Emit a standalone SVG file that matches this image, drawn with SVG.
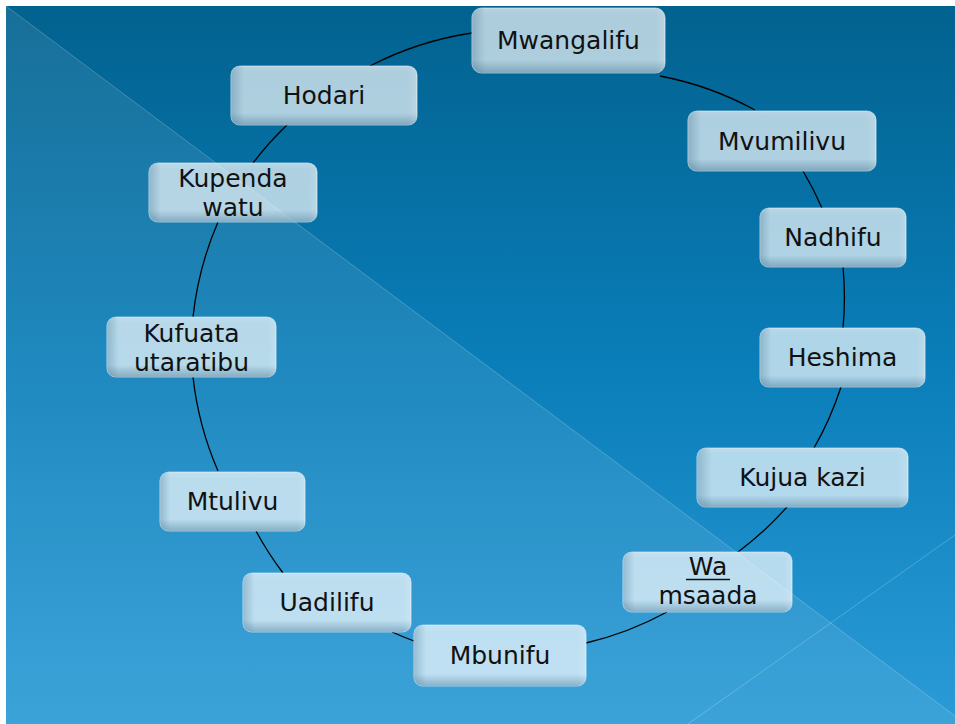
<svg xmlns="http://www.w3.org/2000/svg" width="955" height="724" viewBox="0 0 955 724">
<defs>
<linearGradient id="bg" x1="0" y1="0" x2="0" y2="1">
<stop offset="0" stop-color="#02628F"/>
<stop offset="0.5" stop-color="#0A7EB9"/>
<stop offset="1" stop-color="#2A9BD6"/>
</linearGradient>
<linearGradient id="bevB" x1="0" y1="0" x2="0" y2="1">
<stop offset="0" stop-color="#ffffff" stop-opacity="0.12"/>
<stop offset="0.12" stop-color="#ffffff" stop-opacity="0"/>
<stop offset="0.8" stop-color="#3a6a88" stop-opacity="0"/>
<stop offset="1" stop-color="#3a6a88" stop-opacity="0.4"/>
</linearGradient>
<linearGradient id="bevL" x1="0" y1="0" x2="1" y2="0">
<stop offset="0" stop-color="#3a6a88" stop-opacity="0.3"/>
<stop offset="0.07" stop-color="#3a6a88" stop-opacity="0"/>
<stop offset="0.95" stop-color="#ffffff" stop-opacity="0"/>
<stop offset="1" stop-color="#ffffff" stop-opacity="0.15"/>
</linearGradient>
</defs>
<style>
.box{fill:#ffffff;fill-opacity:0.68;stroke:#e6f4fb;stroke-opacity:0.6;stroke-width:1.2}
.bb{fill:url(#bevB);stroke:none}
.bl{fill:url(#bevL);stroke:none}
.t{font-family:"DejaVu Sans","Liberation Sans",sans-serif;font-size:25px;fill:#111111;text-anchor:middle}
.c{fill:none;stroke:#000000;stroke-width:1.3}
</style>
<rect x="0" y="0" width="955" height="724" fill="#ffffff"/>
<rect x="6" y="6" width="949" height="718" fill="url(#bg)"/>
<polygon points="6,6 955,716 955,724 6,724" fill="#ffffff" fill-opacity="0.085"/>
<line x1="6" y1="6" x2="955" y2="716" stroke="#ffffff" stroke-opacity="0.22" stroke-width="1"/>
<line x1="688" y1="724" x2="955" y2="535" stroke="#ffffff" stroke-opacity="0.22" stroke-width="1"/>

<g id="connectors">
<path class="c" d="M 660 76 A 326 326 0 0 1 755 110"/>
<path class="c" d="M 803 171 A 326 326 0 0 1 822 208"/>
<path class="c" d="M 843 267 A 326 326 0 0 1 843 328"/>
<path class="c" d="M 841 387 A 326 326 0 0 1 814 448"/>
<path class="c" d="M 787 507 A 326 326 0 0 1 738 552"/>
<path class="c" d="M 667 612 A 326 326 0 0 1 586 643"/>
<path class="c" d="M 414 641 A 326 326 0 0 1 392 632"/>
<path class="c" d="M 283 573 A 326 326 0 0 1 256 531"/>
<path class="c" d="M 218 471 A 326 326 0 0 1 193 377"/>
<path class="c" d="M 193 317 A 326 326 0 0 1 218 222"/>
<path class="c" d="M 253 163 A 326 326 0 0 1 287 125"/>
<path class="c" d="M 370 66 A 326 326 0 0 1 472 33"/>
</g>

<g id="n-mwangalifu">
<rect class="box" x="472" y="8" width="193" height="65" rx="10"/>
<rect class="bb" x="472" y="8" width="193" height="65" rx="10"/>
<rect class="bl" x="472" y="8" width="193" height="65" rx="10"/>
<text class="t" x="568.5" y="49">Mwangalifu</text>
</g>
<g id="n-mvumilivu">
<rect class="box" x="688" y="111" width="188" height="60" rx="9"/>
<rect class="bb" x="688" y="111" width="188" height="60" rx="9"/>
<rect class="bl" x="688" y="111" width="188" height="60" rx="9"/>
<text class="t" x="782" y="150">Mvumilivu</text>
</g>
<g id="n-nadhifu">
<rect class="box" x="760" y="208" width="146" height="59" rx="9"/>
<rect class="bb" x="760" y="208" width="146" height="59" rx="9"/>
<rect class="bl" x="760" y="208" width="146" height="59" rx="9"/>
<text class="t" x="833" y="246">Nadhifu</text>
</g>
<g id="n-heshima">
<rect class="box" x="760" y="328" width="165" height="59" rx="9"/>
<rect class="bb" x="760" y="328" width="165" height="59" rx="9"/>
<rect class="bl" x="760" y="328" width="165" height="59" rx="9"/>
<text class="t" x="842.5" y="366">Heshima</text>
</g>
<g id="n-kujua-kazi">
<rect class="box" x="697" y="448" width="211" height="59" rx="9"/>
<rect class="bb" x="697" y="448" width="211" height="59" rx="9"/>
<rect class="bl" x="697" y="448" width="211" height="59" rx="9"/>
<text class="t" x="802.5" y="486">Kujua kazi</text>
</g>
<g id="n-wa-msaada">
<rect class="box" x="623" y="552" width="169" height="60" rx="9"/>
<rect class="bb" x="623" y="552" width="169" height="60" rx="9"/>
<rect class="bl" x="623" y="552" width="169" height="60" rx="9"/>
<text class="t" x="708" y="575">Wa</text>
<line x1="686" y1="579.5" x2="730" y2="579.5" stroke="#111111" stroke-width="1.6"/>
<text class="t" x="708" y="604">msaada</text>
</g>
<g id="n-mbunifu">
<rect class="box" x="414" y="625" width="172" height="61" rx="9"/>
<rect class="bb" x="414" y="625" width="172" height="61" rx="9"/>
<rect class="bl" x="414" y="625" width="172" height="61" rx="9"/>
<text class="t" x="500" y="664">Mbunifu</text>
</g>
<g id="n-uadilifu">
<rect class="box" x="243" y="573" width="168" height="59" rx="9"/>
<rect class="bb" x="243" y="573" width="168" height="59" rx="9"/>
<rect class="bl" x="243" y="573" width="168" height="59" rx="9"/>
<text class="t" x="327" y="611">Uadilifu</text>
</g>
<g id="n-mtulivu">
<rect class="box" x="160" y="472" width="145" height="59" rx="9"/>
<rect class="bb" x="160" y="472" width="145" height="59" rx="9"/>
<rect class="bl" x="160" y="472" width="145" height="59" rx="9"/>
<text class="t" x="232.5" y="510">Mtulivu</text>
</g>
<g id="n-kufuata-utaratibu">
<rect class="box" x="107" y="317" width="169" height="60" rx="9"/>
<rect class="bb" x="107" y="317" width="169" height="60" rx="9"/>
<rect class="bl" x="107" y="317" width="169" height="60" rx="9"/>
<text class="t" x="191.5" y="342">Kufuata</text>
<text class="t" x="191.5" y="371">utaratibu</text>
</g>
<g id="n-kupenda-watu">
<rect class="box" x="149" y="163" width="168" height="59" rx="9"/>
<rect class="bb" x="149" y="163" width="168" height="59" rx="9"/>
<rect class="bl" x="149" y="163" width="168" height="59" rx="9"/>
<text class="t" x="233" y="187">Kupenda</text>
<text class="t" x="233" y="216">watu</text>
</g>
<g id="n-hodari">
<rect class="box" x="231" y="66" width="186" height="59" rx="9"/>
<rect class="bb" x="231" y="66" width="186" height="59" rx="9"/>
<rect class="bl" x="231" y="66" width="186" height="59" rx="9"/>
<text class="t" x="324" y="104">Hodari</text>
</g>
</svg>
